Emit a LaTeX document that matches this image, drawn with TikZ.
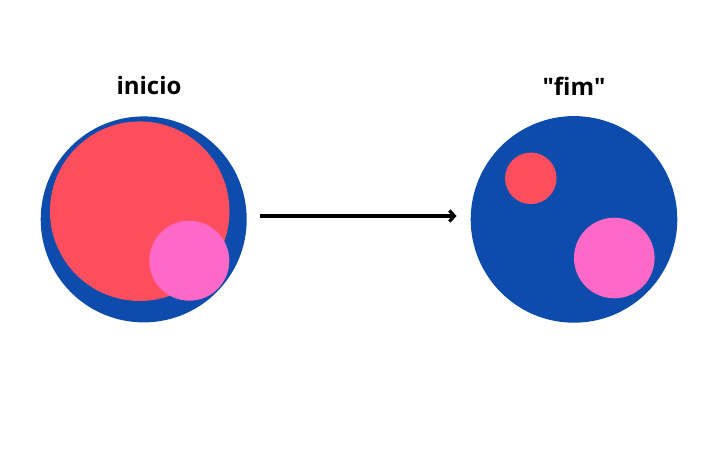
\documentclass[tikz,border=0pt]{standalone}
\usepackage{fontspec}
\setmainfont{Open Sans}
\usetikzlibrary{arrows.meta}
\definecolor{setblue}{HTML}{0D4CAD}
\definecolor{setred}{HTML}{FE4E5E}
\definecolor{setpink}{HTML}{FE68C6}
\tikzset{
  disc/.style={circle,inner sep=0pt,minimum size=#1},
  title/.style={font=\fontsize{24}{29}\selectfont\bfseries},
}

\begin{document}
\begin{tikzpicture}[x=1pt,y=-1pt]
  \useasboundingbox (0,0) rectangle (701,457);
  % start
  \node[disc=206,fill=setblue] (startset) at (143.7,219.4) {};
  \node[disc=179.5,fill=setred] (startred) at (139.7,211.2) {};
  \node[disc=80,fill=setpink] (startpink) at (189.3,260.7) {};
  \node[title] (starttitle) at (149,86) {inicio};
  % end
  \node[disc=206.6,fill=setblue] (endset) at (574,219.4) {};
  \node[disc=51.5,fill=setred] (endred) at (530.8,178.3) {};
  \node[disc=80.6,fill=setpink] (endpink) at (614.3,258) {};
  \node[title] (endtitle) at (574,86) {\textquotedbl fim\textquotedbl};
  \draw[line width=3.2pt,-{Straight Barb[length=5pt,width=11pt]},shorten <=13pt,shorten >=14pt]
    (startset.east|-0,216) -- (endset.west|-0,216);
\end{tikzpicture}
\end{document}
